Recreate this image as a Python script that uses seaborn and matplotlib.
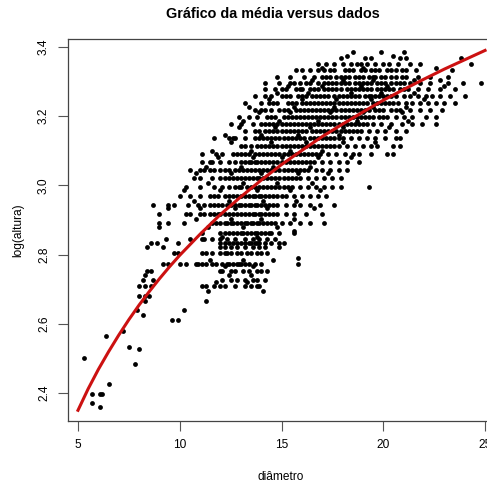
import numpy as np
import pandas as pd
import matplotlib
matplotlib.use("Agg")
import matplotlib.pyplot as plt
import seaborn as sns

# alturas (m) e diametros (cm), linha por linha
alturas = [29.5, 29, 28.5, 28, 27.5, 27, 26.5, 26, 25.5, 25, 24.5, 24, 23.5, 23,
           22.5, 22, 21.5, 21, 20.5, 20, 19.5, 19, 18.5, 18, 17.5, 17.2, 17, 16.8,
           16.5, 16, 15.7, 15.3, 15, 14.8, 14.6, 14.4, 14, 13.8, 13.6, 13.2, 13,
           12.6, 12.5, 12.2, 12, 11.3, 11, 10.7, 10.6]

diametros = [
    [19.9, 18.5, 21.0],
    [17.9, 19.1, 19.4, 20.8, 21.1, 23.8],
    [16.8, 17.6, 18.4, 18.9, 19.6, 20.3, 21.3, 21.8, 24.3],
    [15.7, 16.4, 17.1, 17.6, 18.1, 18.5, 18.9, 19.4, 19.8, 20.2, 20.6, 21.1, 21.6, 23.4],
    [14.8, 16.1, 16.6, 17.0, 17.4, 17.9, 18.3, 18.6, 19.0, 19.3, 19.6, 20.1, 20.6, 21.1,
     21.7, 22.3, 23.2],
    [14.2, 14.9, 15.4, 15.9, 16.4, 16.8, 17.1, 17.5, 17.9, 18.3, 18.6, 19.0, 19.4, 19.7,
     20.1, 20.4, 20.8, 21.3, 21.8, 22.3, 23.2, 23.9, 24.8],
    [14.2, 14.7, 15.2, 15.7, 16.0, 16.4, 16.8, 17.1, 17.5, 17.9, 18.2, 18.6, 19.0, 19.4,
     19.7, 20.1, 20.5, 20.8, 21.2, 21.7, 22.2, 22.8, 23.5],
    [13.7, 14.2, 14.5, 15.0, 15.4, 15.8, 16.2, 16.5, 16.9, 17.3, 17.6, 18.0, 18.4, 18.8,
     19.1, 19.4, 19.8, 20.2, 20.6, 21.0, 21.3, 21.7, 22.1, 22.4, 22.8, 23.3, 24.0],
    [13.2, 14.0, 14.4, 14.8, 15.3, 15.7, 16.0, 16.4, 16.8, 17.2, 17.6, 18.0, 18.4, 18.8,
     19.2, 19.5, 19.9, 20.3, 20.7, 21.1, 21.4, 21.8, 22.2, 22.6, 23.0, 23.5],
    [13.7, 14.2, 14.5, 14.9, 15.3, 15.7, 16.1, 16.5, 16.9, 17.3, 17.7, 18.1, 18.5, 18.9,
     19.3, 19.6, 20.0, 20.4, 20.8, 21.3, 21.8, 22.3, 22.9],
    [12.9, 13.4, 13.8, 14.3, 14.7, 15.1, 15.5, 15.9, 16.3, 16.7, 17.1, 17.5, 17.9, 18.3,
     18.7, 19.1, 19.5, 19.8, 20.2, 20.6, 21.0, 21.4, 22.1, 22.6],
    [12.5, 13.0, 13.6, 14.0, 14.4, 14.8, 15.2, 15.6, 16.0, 16.4, 16.8, 17.2, 17.6, 18.0,
     18.4, 18.8, 19.2, 19.5, 19.9, 20.4, 20.9, 21.4, 21.9, 22.6],
    [13.2, 13.7, 14.2, 14.6, 15.0, 15.4, 15.8, 16.2, 16.5, 16.9, 17.3, 17.7, 18.1, 18.5,
     18.9, 19.3, 19.7, 20.1, 20.6, 21.1],
    [11.7, 12.4, 12.6, 12.7, 13.2, 13.7, 14.1, 14.5, 14.9, 15.3, 15.7, 16.1, 16.4, 16.8,
     17.2, 17.6, 18.0, 18.4, 18.8, 19.2, 19.6, 20.1, 20.6, 20.8],
    [13.0, 13.5, 13.8, 14.2, 14.6, 15.0, 15.4, 15.8, 16.2, 16.6, 17.0, 17.4, 17.8, 18.2,
     18.6, 19.0, 19.4, 19.7, 20.5, 20.8],
    [11.1, 11.8, 12.1, 12.6, 13.0, 13.4, 13.7, 14.1, 14.5, 14.9, 15.3, 15.7, 16.1, 16.5,
     16.9, 17.3, 17.7, 18.1, 18.5, 18.8, 19.4, 20.2, 20.5],
    [11.1, 11.5, 11.6, 12.0, 12.7, 13.0, 13.2, 13.5, 13.8, 14.2, 14.6, 15.0, 15.4, 15.8,
     16.2, 16.6, 17.0, 17.4, 17.8, 18.2, 18.8],
    [10.5, 11.0, 11.2, 11.5, 11.7, 12.0, 12.4, 12.7, 13.1, 13.5, 13.9, 14.3, 14.7, 15.1,
     15.5, 15.9, 16.3, 16.7, 17.0, 17.4, 17.8, 18.2],
    [10.7, 11.0, 11.6, 12.0, 12.4, 12.8, 13.0, 13.4, 13.6, 13.9, 14.3, 14.7, 15.1, 15.5,
     15.9, 16.3, 16.7, 17.1, 17.5, 17.9],
    [10.3, 11.0, 11.7, 12.4, 12.7, 13.0, 13.5, 13.9, 14.3, 14.7, 15.1, 15.5, 15.9, 16.3,
     16.7, 17.1, 17.5, 17.9, 19.3],
    [10.0, 10.5, 11.0, 11.5, 11.9, 12.2, 12.6, 13.0, 13.4, 13.7, 14.0, 14.4, 14.8, 15.2,
     15.6, 16.0, 16.4, 16.8, 17.2],
    [8.7, 9.4, 9.7, 10.4, 10.9, 11.2, 11.5, 11.7, 12.1, 12.5, 12.7, 13.0, 13.2, 13.5,
     13.7, 14.0, 14.4, 14.8, 15.2, 15.6, 15.9, 16.4, 16.9, 17.6],
    [9.0, 10.3, 10.5, 11.0, 11.2, 11.5, 11.9, 12.2, 12.6, 13.0, 13.4, 13.7, 14.0, 14.4,
     14.8, 15.2, 15.6, 16.2, 17.0],
    [9.0, 9.4, 10.2, 11.6, 12.0, 12.3, 12.6, 13.0, 13.3, 13.6, 13.9, 14.3, 14.7, 15.0,
     15.4, 15.9, 16.4, 17.1],
    [11.1, 12.0, 12.4, 12.8, 13.1, 13.5, 13.8, 14.2, 14.5, 14.9, 15.6],
    [9.3, 10.5, 11.1, 11.2, 11.6, 12.0, 12.3, 12.7, 13.2, 13.6, 13.9, 14.3, 14.7],
    [8.6, 8.9, 9.9, 12.0, 12.2, 12.6, 13.0, 13.4, 13.7, 13.9, 14.2, 14.5, 14.9, 15.1],
    [8.4, 9.2, 12.0, 12.2, 12.5, 12.8, 13.2, 13.6, 13.9, 14.2, 14.9],
    [9.7, 9.9, 11.1, 11.3, 11.6, 12.0, 12.3, 12.8, 13.3, 13.8, 14.0, 14.3],
    [9.2, 9.4, 10.0, 10.3, 10.8, 10.9, 11.1, 11.3, 11.6, 11.8, 12.1, 12.3, 12.6, 12.9,
     13.2, 13.7, 14.0, 15.8],
    [8.4, 8.6, 12.0, 12.1, 12.5, 12.7, 13.1, 13.4, 13.8, 14.0, 14.3],
    [8.2, 8.7, 12.1, 12.5, 12.8, 13.2, 13.6, 13.8, 14.2],
    [8.0, 8.3, 8.6, 11.1, 11.3, 11.7, 12.0, 12.2, 12.7, 13.2, 13.5, 13.8, 13.9],
    [11.4, 14.1],
    [8.0, 8.3, 8.5],
    [8.3, 11.3],
    [7.9, 10.2],
    [8.2],
    [9.6, 9.9],
    [7.2],
    [6.4],
    [7.5],
    [8.0],
    [5.3],
    [7.8],
    [6.5],
    [5.7, 6.1, 6.2],
    [5.7],
    [6.1],
]

# pontos adicionais nas regioes mais densas da nuvem
extra_alturas = [28.5, 28, 27.5, 27, 26.5, 26, 25.5, 25, 24.5, 24, 23.5, 23, 22.5,
                 22, 21.5, 21, 20.5, 20, 19.5, 19, 18.5, 18, 17.5, 17, 16.5, 16]

extra_diametros = [
    [17.2, 18.0, 18.7, 19.2, 20.0, 20.7],
    [16.0, 16.8, 17.4, 18.3, 19.1, 19.6, 20.4, 20.9],
    [15.4, 17.2, 17.7, 18.1, 18.8, 19.5, 19.9, 20.4, 20.9],
    [15.6, 16.2, 17.3, 17.7, 18.1, 18.8, 19.2, 19.9, 20.6, 21.0],
    [15.0, 15.9, 16.6, 17.3, 17.7, 18.4, 18.8, 19.2, 19.9, 20.3, 21.0],
    [15.2, 16.0, 16.7, 17.1, 17.8, 18.2, 18.6, 19.3, 19.6, 20.0, 20.4],
    [14.6, 15.5, 16.2, 16.6, 17.0, 17.4, 17.8, 18.2, 18.6, 19.0, 19.7, 20.1, 20.5],
    [14.0, 15.1, 15.9, 16.3, 16.7, 17.1, 17.5, 17.9, 18.3, 18.7, 19.1, 19.8, 20.6],
    [14.5, 15.3, 15.7, 16.1, 16.5, 16.9, 17.3, 17.7, 18.1, 18.5, 18.9, 19.3, 20.0],
    [14.2, 14.6, 15.0, 15.4, 15.8, 16.2, 16.6, 17.0, 17.4, 17.8, 18.2, 18.6, 19.0],
    [13.9, 14.4, 14.8, 15.2, 15.6, 16.0, 16.7, 17.1, 17.5, 17.9, 18.3, 18.7],
    [13.9, 14.3, 14.7, 15.1, 15.5, 15.9, 16.6, 17.0, 17.4, 17.8],
    [13.2, 14.0, 14.4, 14.8, 15.2, 15.6, 16.0, 16.4, 16.8, 17.2, 17.6],
    [12.8, 13.2, 13.9, 14.3, 14.7, 15.1, 15.5, 15.9, 16.3, 16.7],
    [12.4, 13.4, 13.7, 14.0, 14.4, 14.8, 15.2, 15.6, 16.0, 16.4],
    [12.2, 12.9, 13.3, 13.7, 14.1, 14.5, 14.9, 15.3, 15.7, 16.1],
    [12.2, 12.6, 13.2, 13.8, 14.1, 14.5, 14.9, 15.3, 15.7],
    [12.1, 12.9, 13.3, 13.7, 14.1, 14.5, 14.9, 15.3],
    [11.7, 12.4, 12.8, 13.2, 13.6, 13.9, 14.2, 14.6, 15.0],
    [11.9, 12.3, 12.9, 13.4, 13.8, 14.2, 14.6],
    [11.7, 12.0, 12.4, 12.8, 13.2, 13.6, 13.9, 14.2, 14.6],
    [11.8, 12.2, 12.5, 12.8, 13.2, 13.5, 13.8, 14.1, 14.5],
    [12.2, 12.6, 13.0, 13.3, 13.7, 14.0, 14.4],
    [12.4, 12.8, 13.2, 13.5, 13.8],
    [12.2, 12.5, 13.0, 13.5],
    [12.4, 12.8, 13.0, 13.4],
]

# alturas intermediarias (medidas fora do passo de 0,5 m)
inter_alturas = [29.2, 28.2, 27.2, 26.8, 26.2, 25.8, 25.2, 24.8, 24.2, 23.8, 23.2, 22.8,
                 22.2, 21.8, 21.2, 20.8, 20.2, 19.8, 19.2, 18.8, 18.2, 17.8, 17.6, 17.3,
                 16.3, 16.2, 15.9, 15.5, 15.2]

inter_diametros = [
    [18.2, 20.5],
    [17.0, 19.0, 22.6],
    [16.5, 18.0, 19.5, 21.5, 22.8],
    [15.3, 17.0, 18.9, 20.2, 23.0],
    [14.8, 16.3, 18.4, 19.9, 21.5],
    [14.4, 16.0, 17.7, 19.4, 22.0],
    [13.4, 15.6, 17.6, 19.5, 21.1],
    [13.9, 15.4, 17.4, 19.0, 20.9],
    [13.1, 14.9, 16.8, 18.7, 21.2],
    [12.9, 14.7, 16.4, 18.0, 20.3],
    [12.2, 14.0, 15.8, 17.8],
    [12.5, 14.5, 16.2, 18.0, 19.6],
    [11.6, 13.5, 15.4, 17.0],
    [11.9, 13.6, 15.0, 16.8, 18.4],
    [11.3, 13.0, 14.6, 16.4],
    [10.8, 12.5, 14.0, 15.8, 17.3],
    [11.4, 13.1, 14.8, 16.5],
    [10.2, 12.0, 13.8, 15.4, 16.9],
    [10.7, 12.4, 14.1, 15.7],
    [9.4, 11.0, 12.7, 14.3, 16.6],
    [10.8, 12.5, 14.0, 15.6],
    [9.0, 11.4, 13.1, 14.8],
    [15.6],
    [12.1, 13.8],
    [15.8],
    [11.5, 13.1, 14.6],
    [12.2, 13.6],
    [8.3, 12.4, 13.5],
    [11.8, 13.3],
]

# curva da media ajustada
curva_diametro = [5, 5.5, 6, 6.5, 7, 7.5, 8, 8.5, 9, 9.5, 10, 11, 12, 13, 14, 15, 16,
                  17, 18, 19, 20, 21, 22, 23, 24, 25]
curva_log_altura = [2.350, 2.412, 2.468, 2.519, 2.567, 2.612, 2.654, 2.693, 2.730,
                    2.765, 2.798, 2.859, 2.916, 2.967, 3.015, 3.060, 3.101, 3.141,
                    3.177, 3.212, 3.246, 3.277, 3.307, 3.336, 3.363, 3.390]

# monta tabela de dados
linhas = []
todas_alturas = alturas + extra_alturas + inter_alturas
todos_diametros = diametros + extra_diametros + inter_diametros
for h, ds in zip(todas_alturas, todos_diametros):
    for d in ds:
        linhas.append({"diametro": d, "altura": h})
df = pd.DataFrame(linhas)
df["log_altura"] = np.log(df["altura"])

curva = pd.DataFrame({"diametro": curva_diametro, "log_altura": curva_log_altura})

plt.rcParams["font.family"] = ["Liberation Sans", "DejaVu Sans"]

fig = plt.figure(figsize=(4.87, 4.84), dpi=100)
ax = fig.add_axes([68 / 487, 63 / 484, 437 / 487, 382 / 484])

sns.scatterplot(data=df, x="diametro", y="log_altura", color="black",
                s=12, linewidth=0, ax=ax)
sns.lineplot(data=curva, x="diametro", y="log_altura", color="#cc1111",
             linewidth=2.2, sort=False, estimator=None, ax=ax)

ax.set_xlim(4.509, 25.98)
ax.set_ylim(2.319, 3.423)
ax.set_xticks([5, 10, 15, 20, 25])
ax.set_yticks([2.4, 2.6, 2.8, 3.0, 3.2, 3.4])
ax.set_yticklabels(["2.4", "2.6", "2.8", "3.0", "3.2", "3.4"], rotation=90, va="center")
ax.tick_params(length=7, width=0.8, color="#555555", labelsize=8.6, pad=6)
for s in ax.spines.values():
    s.set_color("#444444")
    s.set_linewidth(0.9)
ax.set_xlabel("")
ax.set_ylabel("")

# titulos
fig.text(273 / 487, 1 - 14 / 484, "Gráfico da média versus dados",
         ha="center", va="center", fontsize=10.4, fontweight="bold")
fig.text(281 / 487, 1 - 477 / 484, "diâmetro", ha="center", va="center", fontsize=8.6)
fig.text(18 / 487, 1 - 230 / 484, "log(altura)", ha="center", va="center",
         fontsize=8.6, rotation=90)

fig.savefig("out.png", dpi=100)
